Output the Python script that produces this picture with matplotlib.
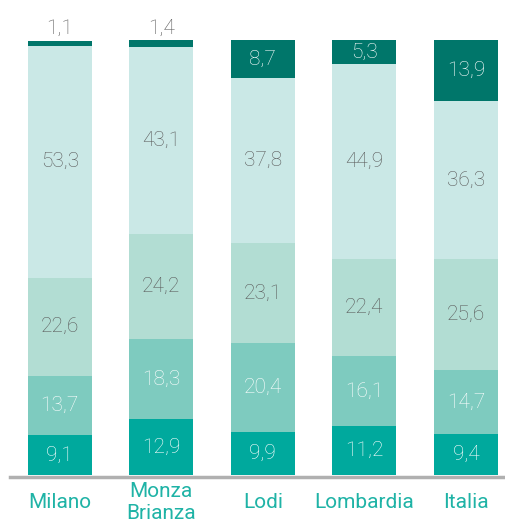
import numpy as np
import matplotlib.pyplot as plt

plt.rcParams['font.family'] = ['Roboto', 'DejaVu Sans']

categories = ['Milano', 'Monza\nBrianza', 'Lodi', 'Lombardia', 'Italia']
# segments from bottom to top
seg1 = [9.1, 12.9, 9.9, 11.2, 9.4]
seg2 = [13.7, 18.3, 20.4, 16.1, 14.7]
seg3 = [22.6, 24.2, 23.1, 22.4, 25.6]
seg4 = [53.3, 43.1, 37.8, 44.9, 36.3]
seg5 = [1.1, 1.4, 8.7, 5.3, 13.9]

series = [seg1, seg2, seg3, seg4, seg5]
colors = ['#00a99d', '#7ecbbf', '#b2ddd3', '#cae8e6', '#00766a']
text_colors = ['white', 'white', '#5a5a5a', '#5a5a5a', 'white']

fig = plt.figure(figsize=(5.06, 5.26), dpi=100)
ax = fig.add_axes([10 / 506, 49 / 526, 496 / 506, 477 / 526])

x = np.arange(len(categories))
bottom = np.zeros(len(categories))
for vals, col, tcol in zip(series, colors, text_colors):
    vals = np.array(vals)
    ax.bar(x, vals, bottom=bottom, width=0.63, color=col, edgecolor='none')
    for i, v in enumerate(vals):
        lab = f'{v:.1f}'.replace('.', ',')
        if v < 3:
            ax.text(x[i], bottom[i] + v + 0.6, lab, ha='center', va='bottom',
                    color='#5a5a5a', fontsize=15, fontweight='light')
        else:
            ax.text(x[i], bottom[i] + v / 2, lab, ha='center', va='center',
                    color=tcol, fontsize=15, fontweight='light')
    bottom += vals

ax.axhline(-0.46, color='#b0b0b0', linewidth=2.5, clip_on=False)
ax.set_xlim(-0.49, 4.395)
ax.set_ylim(-0.46, 109.2)

for i, c in enumerate(categories):
    ax.text(x[i], -6.3, c, ha='center', va='center', color='#1fb3a6',
            fontsize=15, linespacing=1.2, clip_on=False)

ax.axis('off')
fig.savefig('out.png', dpi=100)
